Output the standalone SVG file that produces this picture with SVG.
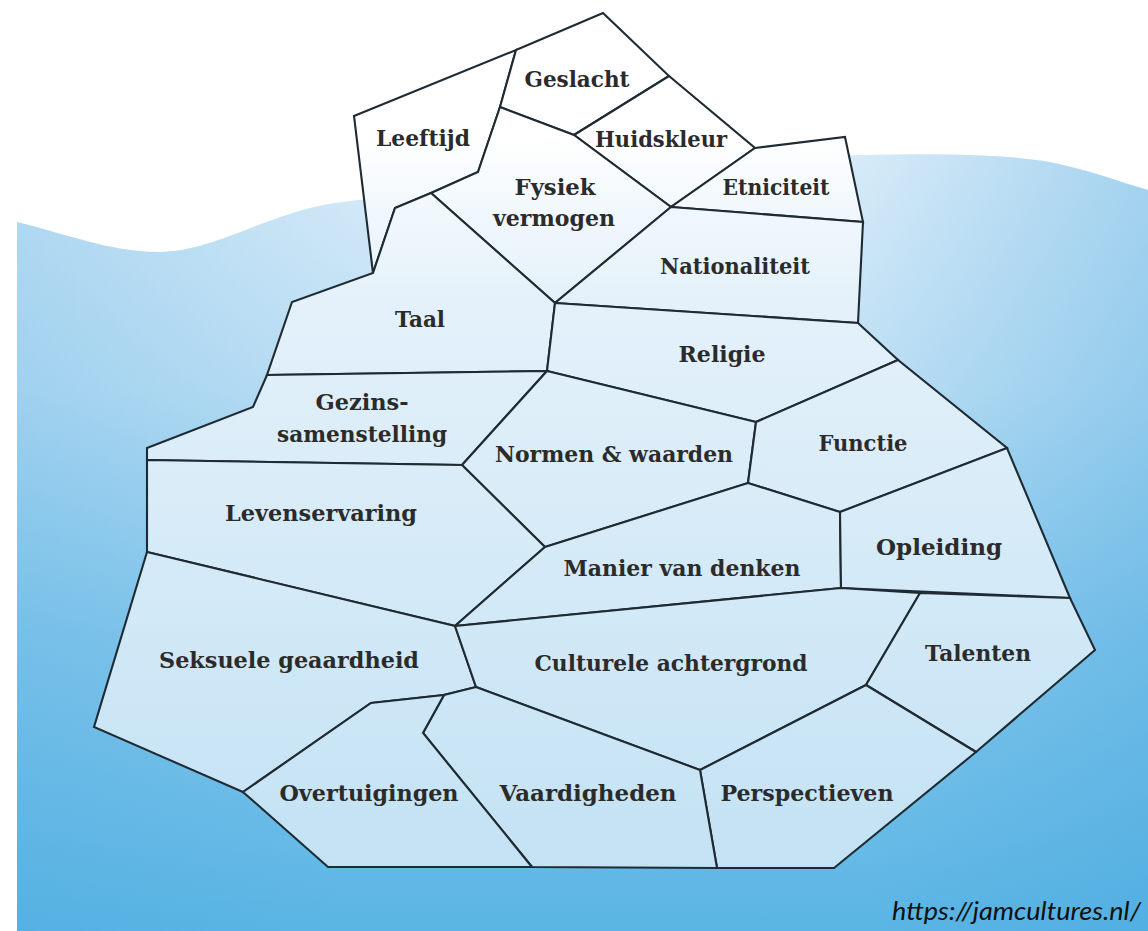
<svg xmlns="http://www.w3.org/2000/svg" width="1148" height="931" viewBox="0 0 1148 931">
<defs>
<linearGradient id="water" gradientUnits="userSpaceOnUse" x1="0" y1="155" x2="0" y2="931">
<stop offset="0" stop-color="#d6eaf8"/>
<stop offset="0.3" stop-color="#bbdef4"/>
<stop offset="0.62" stop-color="#85c7ec"/>
<stop offset="1" stop-color="#5ab5e4"/>
</linearGradient>
<linearGradient id="waterSide" gradientUnits="userSpaceOnUse" x1="17" y1="0" x2="1148" y2="0">
<stop offset="0" stop-color="#3fa3dc" stop-opacity="0.22"/>
<stop offset="0.3" stop-color="#3fa3dc" stop-opacity="0"/>
<stop offset="0.75" stop-color="#3fa3dc" stop-opacity="0"/>
<stop offset="1" stop-color="#3fa3dc" stop-opacity="0.32"/>
</linearGradient>
<linearGradient id="ice" gradientUnits="userSpaceOnUse" x1="0" y1="140" x2="0" y2="870">
<stop offset="0" stop-color="#ffffff"/>
<stop offset="0.08" stop-color="#f3f9fd"/>
<stop offset="0.22" stop-color="#e4f1fa"/>
<stop offset="1" stop-color="#c3e2f4"/>
</linearGradient>
</defs>
<style>
.cell{fill:url(#ice);stroke:#1f2b33;stroke-width:2.1;stroke-linejoin:miter}
.lbl{font-family:"DejaVu Serif","Liberation Serif",serif;font-weight:bold;font-size:22px;fill:#2b2b2b;text-anchor:middle}
.url{font-family:Lato,"Liberation Sans",sans-serif;font-style:italic;font-size:26px;fill:#111}
</style>
<rect width="1148" height="931" fill="#ffffff"/>
<path d="M17,222 C60,232 110,252 158,252 C215,252 270,212 335,203 C450,188 700,158 860,155 C950,153 1010,155 1050,162 C1090,170 1120,182 1148,190 L1148,931 L17,931 Z" fill="url(#water)"/>
<path d="M17,222 C60,232 110,252 158,252 C215,252 270,212 335,203 C450,188 700,158 860,155 C950,153 1010,155 1050,162 C1090,170 1120,182 1148,190 L1148,931 L17,931 Z" fill="url(#waterSide)"/>
<g id="connectors"></g>
<g id="leeftijd"><polygon class="cell" points="354,116 516,50 500,107 478,172 431,193 395,208 373,273"/><text class="lbl" x="423" y="146" textLength="94" lengthAdjust="spacingAndGlyphs">Leeftijd</text></g>
<g id="geslacht"><polygon class="cell" points="516,50 603,13 669,76 574,135 500,107"/><text class="lbl" x="577" y="87" textLength="105" lengthAdjust="spacingAndGlyphs">Geslacht</text></g>
<g id="huidskleur"><polygon class="cell" points="574,135 669,76 755,148 671,207"/><text class="lbl" x="661" y="147" textLength="132" lengthAdjust="spacingAndGlyphs">Huidskleur</text></g>
<g id="etniciteit"><polygon class="cell" points="755,148 845,137 863,222 671,207"/><text class="lbl" x="776" y="195" textLength="107" lengthAdjust="spacingAndGlyphs">Etniciteit</text></g>
<g id="fysiek"><polygon class="cell" points="500,107 574,135 671,207 555,303 431,193 478,172"/><text class="lbl" x="555" y="195" textLength="81" lengthAdjust="spacingAndGlyphs">Fysiek</text><text class="lbl" x="554" y="226" textLength="122" lengthAdjust="spacingAndGlyphs">vermogen</text></g>
<g id="nationaliteit"><polygon class="cell" points="671,207 863,222 858,323 555,303"/><text class="lbl" x="735" y="274" textLength="150" lengthAdjust="spacingAndGlyphs">Nationaliteit</text></g>
<g id="taal"><polygon class="cell" points="373,273 395,208 431,193 555,303 547,371 267,375 292,302"/><text class="lbl" x="420" y="327" textLength="50" lengthAdjust="spacingAndGlyphs">Taal</text></g>
<g id="religie"><polygon class="cell" points="555,303 858,323 898,360 756,422 547,371"/><text class="lbl" x="722" y="362" textLength="87" lengthAdjust="spacingAndGlyphs">Religie</text></g>
<g id="gezinssamenstelling"><polygon class="cell" points="267,375 547,371 462,465 147,460 147,448 253,407"/><text class="lbl" x="362" y="410" textLength="93" lengthAdjust="spacingAndGlyphs">Gezins-</text><text class="lbl" x="362" y="442" textLength="170" lengthAdjust="spacingAndGlyphs">samenstelling</text></g>
<g id="normen"><polygon class="cell" points="547,371 756,422 748,483 545,547 462,465"/><text class="lbl" x="614" y="462" textLength="238" lengthAdjust="spacingAndGlyphs">Normen &amp; waarden</text></g>
<g id="functie"><polygon class="cell" points="756,422 898,360 1007,448 840,512 748,483"/><text class="lbl" x="863" y="451" textLength="89" lengthAdjust="spacingAndGlyphs">Functie</text></g>
<g id="levenservaring"><polygon class="cell" points="147,460 462,465 545,547 455,626 147,552"/><text class="lbl" x="321" y="521" textLength="192" lengthAdjust="spacingAndGlyphs">Levenservaring</text></g>
<g id="manier"><polygon class="cell" points="545,547 748,483 840,512 841,588 455,626"/><text class="lbl" x="682" y="576" textLength="237" lengthAdjust="spacingAndGlyphs">Manier van denken</text></g>
<g id="opleiding"><polygon class="cell" points="840,512 1007,448 1070,598 841,588"/><text class="lbl" x="939" y="555" textLength="126" lengthAdjust="spacingAndGlyphs">Opleiding</text></g>
<g id="seksuele"><polygon class="cell" points="147,552 455,626 476,687 444,695 371,703 243,792 94,727"/><text class="lbl" x="289" y="668" textLength="260" lengthAdjust="spacingAndGlyphs">Seksuele geaardheid</text></g>
<g id="culturele"><polygon class="cell" points="455,626 841,588 920,593 866,685 700,770 476,687"/><text class="lbl" x="671" y="671" textLength="273" lengthAdjust="spacingAndGlyphs">Culturele achtergrond</text></g>
<g id="talenten"><polygon class="cell" points="920,593 1070,598 1095,650 976,752 866,685"/><text class="lbl" x="978" y="661" textLength="106" lengthAdjust="spacingAndGlyphs">Talenten</text></g>
<g id="perspectieven"><polygon class="cell" points="866,685 976,752 834,868 717,868 700,770"/><text class="lbl" x="807" y="801" textLength="173" lengthAdjust="spacingAndGlyphs">Perspectieven</text></g>
<g id="vaardigheden"><polygon class="cell" points="476,687 700,770 717,868 532,867 423,733 444,695"/><text class="lbl" x="588" y="801" textLength="177" lengthAdjust="spacingAndGlyphs">Vaardigheden</text></g>
<g id="overtuigingen"><polygon class="cell" points="371,703 444,695 423,733 532,867 328,867 243,792"/><text class="lbl" x="369" y="801" textLength="179" lengthAdjust="spacingAndGlyphs">Overtuigingen</text></g>
<text class="url" x="892" y="920" textLength="249" lengthAdjust="spacingAndGlyphs">https://jamcultures.nl/</text>
</svg>
